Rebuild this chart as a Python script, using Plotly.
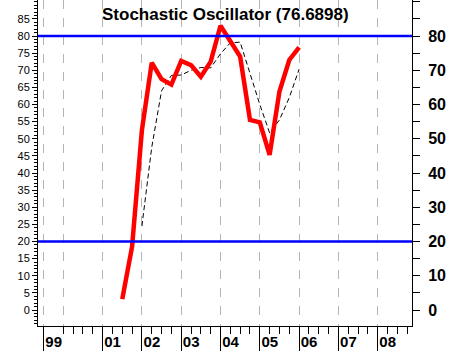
import plotly.graph_objects as go

# Quarterly dates (decimal years)
red_dates = [2001.5, 2001.75, 2002.0, 2002.25, 2002.5, 2002.75, 2003.0, 2003.25, 2003.5,
             2003.75, 2004.0, 2004.25, 2004.5, 2004.75, 2005.0, 2005.25, 2005.5, 2005.75, 2006.0]
stoch_k = [3.2, 18.5, 52.5, 72.2, 67.4, 65.8, 72.7, 71.5, 68.1,
           72.5, 83.0, 78.3, 74.0, 55.5, 54.8, 45.3, 63.8, 73.0, 76.69]
sig_dates = red_dates[2:]
stoch_d = [24.5, 47.5, 64.0, 68.5, 68.6, 70.0, 70.8, 70.7, 74.8,
           78.0, 78.2, 69.0, 60.0, 51.7, 55.5, 62.0, 70.3]
levels = [20, 80]

year_ticks = [1999.5, 2000, 2001, 2002, 2003, 2004, 2005, 2006, 2007, 2008]
year_labels = ["99", "", "01", "02", "03", "04", "05", "06", "07", "08"]
long_ticks = [1999.5, 2001, 2002, 2003, 2004, 2005, 2006, 2007, 2008]
quarter_ticks = [y + q for y in range(2000, 2009) for q in (0.25, 0.5, 0.75)]

left_ticks = list(range(0, 90, 5))
right_ticks = list(range(0, 90, 10))
title_text = "Stochastic Oscillator (76.6898)"

FONT = "Liberation Sans, Arial, sans-serif"
XR = [1999.356, 2008.873]
YR = [-4.67, 90.51]

fig = go.Figure()
fig.add_trace(go.Scatter(x=sig_dates, y=stoch_d, mode="lines",
                         line=dict(color="black", width=1, dash="5px,3px"),
                         showlegend=False, hoverinfo="skip"))
fig.add_trace(go.Scatter(x=red_dates, y=stoch_k, mode="lines",
                         line=dict(color="#FF0000", width=4.5),
                         showlegend=False, hoverinfo="skip"))
# invisible trace for secondary axes
fig.add_trace(go.Scatter(x=[XR[0]], y=[0], xaxis="x2", yaxis="y2", mode="markers",
                         marker=dict(opacity=0), showlegend=False, hoverinfo="skip"))

for lv in levels:
    fig.add_shape(type="line", xref="paper", yref="y", x0=0, x1=1, y0=lv, y1=lv,
                  line=dict(color="#0000FF", width=2.5), layer="above")

fig.add_annotation(text="<b>" + title_text + "</b>", xref="paper", yref="paper",
                   x=0.5, y=1, yanchor="top", yshift=-3, showarrow=False,
                   font=dict(family=FONT, size=17, color="black"))

fig.update_layout(
    width=450, height=351,
    margin=dict(l=38, r=38, t=0, b=25, autoexpand=False),
    paper_bgcolor="white", plot_bgcolor="white",
    showlegend=False,
    xaxis=dict(range=XR, tickmode="array", tickvals=year_ticks, ticktext=year_labels,
               ticks="outside", ticklen=7, tickcolor="black", tickwidth=1,
               showgrid=True, gridcolor="#B4B4B4", griddash="dash", gridwidth=1,
               showline=True, linecolor="black", linewidth=1, zeroline=False,
               automargin=False,
               tickfont=dict(family=FONT, size=15, color="black", weight="bold"),
               ticklabelshift=10, ticklabelstandoff=-5,
               minor=dict(tickmode="array", tickvals=quarter_ticks, ticks="outside",
                          ticklen=7, tickcolor="black", showgrid=False)),
    xaxis2=dict(range=XR, overlaying="x", anchor="y", side="bottom",
                tickmode="array", tickvals=long_ticks, ticks="outside", ticklen=24,
                tickcolor="black", showticklabels=False, showgrid=False,
                showline=False, zeroline=False, automargin=False),
    yaxis=dict(range=YR, tickmode="array", tickvals=left_ticks,
               ticks="outside", ticklen=5, tickcolor="black",
               showgrid=False, zeroline=False, showline=True, linecolor="black",
               automargin=False,
               tickfont=dict(family=FONT, size=11, color="black"),
               minor=dict(dtick=1, tick0=0, ticks="outside", ticklen=3,
                          tickcolor="black", showgrid=False)),
    yaxis2=dict(range=YR, overlaying="y", side="right", anchor="x",
                tickmode="array", tickvals=right_ticks,
                ticks="outside", ticklen=7, tickcolor="black",
                showgrid=False, zeroline=False, showline=True, linecolor="black",
                automargin=False,
                tickfont=dict(family=FONT, size=16, color="black", weight="bold"),
                ticklabelstandoff=5,
                minor=dict(dtick=5, tick0=0, ticks="outside", ticklen=7,
                           tickcolor="black", showgrid=False)),
)

fig.write_html("out.html")
